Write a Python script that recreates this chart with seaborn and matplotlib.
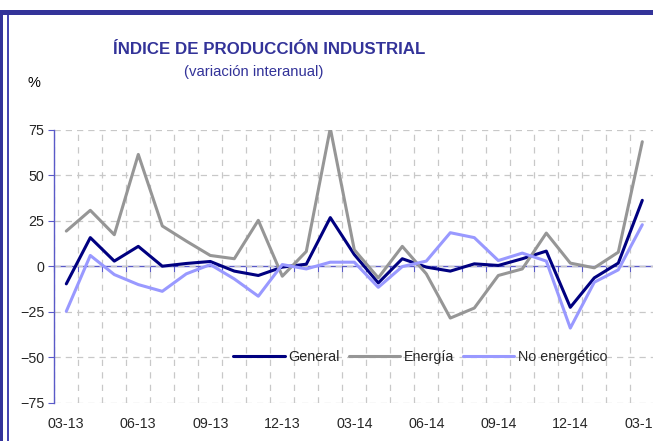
import matplotlib
matplotlib.use("Agg")
import matplotlib.pyplot as plt
from matplotlib.patches import Rectangle
import numpy as np
import pandas as pd
import seaborn as sns

months = ["03-13", "04-13", "05-13", "06-13", "07-13", "08-13", "09-13", "10-13",
          "11-13", "12-13", "01-14", "02-14", "03-14", "04-14", "05-14", "06-14",
          "07-14", "08-14", "09-14", "10-14", "11-14", "12-14", "01-15", "02-15", "03-15"]
general = [-9.7, 15.7, 2.8, 10.9, 0.0, 1.5, 2.6, -2.7, -5.1, -0.5, 1.1, 26.7, 6.4,
           -9.2, 4.1, -0.5, -2.7, 1.3, 0.4, 4.1, 8.3, -22.6, -6.4, 1.7, 36.2]
energia = [19.3, 30.7, 17.3, 61.4, 22.1, 13.8, 5.9, 4.1, 25.2, -5.5, 8.1, 75.8, 9.0,
           -6.4, 10.9, -4.2, -28.5, -23.0, -5.1, -1.5, 18.2, 1.7, -0.9, 7.7, 68.4]
no_energetico = [-24.8, 5.9, -4.6, -10.1, -13.8, -4.2, 0.9, -7.0, -16.5, 0.9, -1.5, 2.2,
                 2.2, -11.6, -0.2, 2.8, 18.4, 15.7, 3.1, 7.2, 2.8, -34.0, -8.8, -2.0, 22.8]
series_names = ["General", "Energía", "No energético"]
colors = ["#000080", "#969696", "#9999FF"]

idx = np.arange(len(months))
df = pd.DataFrame({
    "pos": np.tile(idx, 3),
    "valor": general + energia + no_energetico,
    "serie": np.repeat(series_names, len(months)),
})

sns.set_style("white")
plt.rcParams["font.family"] = ["Liberation Sans", "DejaVu Sans"]

blue = "#333399"
axis_blue = "#5A5AC8"

fig = plt.figure(figsize=(6.53, 4.41), dpi=100)
ax = fig.add_axes([54.3 / 653, 1 - 402.7 / 441, 600 / 653, 273 / 441])

sns.lineplot(data=df, x="pos", y="valor", hue="serie", hue_order=series_names,
             palette=colors, linewidth=2.2, ax=ax, legend=True)

ax.set_xlim(-0.5, len(months) - 0.5)
ax.set_ylim(-75, 75)
ax.set_yticks([75, 50, 25, 0, -25, -50, -75])
ax.set_xticks(idx[::3])
ax.set_xticklabels(months[::3])
ax.set_xticks(np.arange(-0.5, len(months), 1), minor=True)
ax.set_xlabel("")
ax.set_ylabel("")

ax.grid(False)
ax.grid(True, which="minor", axis="x", color="#C8C8C8", linestyle=(0, (5, 5)), linewidth=0.9)
ax.grid(True, which="major", axis="y", color="#C8C8C8", linestyle=(0, (5, 4)), linewidth=0.9)
ax.set_axisbelow(True)

for s in ["top", "right", "bottom"]:
    ax.spines[s].set_visible(False)
ax.spines["left"].set_color(axis_blue)
ax.spines["left"].set_linewidth(1)
ax.tick_params(axis="y", direction="out", length=4, color=axis_blue, labelsize=10.3, pad=3, left=True)
ax.tick_params(axis="x", which="both", length=0, labelsize=10.3, pad=10)

# category axis crossing at zero
zero_ax = ax.secondary_xaxis(0.5)
zero_ax.set_xticks(np.arange(-0.5, len(months), 1))
zero_ax.set_xticklabels([])
zero_ax.xaxis.set_ticks_position("bottom")
zero_ax.tick_params(axis="x", which="both", length=4, color=axis_blue, direction="out",
                    labelbottom=False, labeltop=False)
for s in zero_ax.spines.values():
    s.set_color(axis_blue)
    s.set_linewidth(1)

leg = ax.legend(loc="center", bbox_to_anchor=(0.61, 0.167), ncol=3, frameon=False,
                fontsize=10.3, handlelength=3.6, handletextpad=0.25, columnspacing=0.6,
                borderpad=0)
for line in leg.get_lines():
    line.set_linewidth(2.2)

fig.text(269.5 / 653, 1 - 49 / 441, "ÍNDICE DE PRODUCCIÓN INDUSTRIAL", ha="center",
         va="center", fontsize=12.2, fontweight="bold", color=blue)
fig.text(253.5 / 653, 1 - 72 / 441, "(variación interanual)", ha="center", va="center",
         fontsize=10.7, color=blue)
fig.text(34 / 653, 1 - 83 / 441, "%", ha="center", va="center", fontsize=10.5, color="black")

# outer frame
fig.add_artist(Rectangle((0, 1 - 15 / 441), 1, 5 / 441, transform=fig.transFigure,
                         color=blue, lw=0))
fig.add_artist(Rectangle((0, 0), 3 / 653, 1 - 11 / 441, transform=fig.transFigure,
                         color=blue, lw=0))
fig.add_artist(Rectangle((7 / 653, 0), 1.5 / 653, 1 - 15 / 441, transform=fig.transFigure,
                         color="#4545B0", lw=0))

fig.savefig("out.png", dpi=100)
